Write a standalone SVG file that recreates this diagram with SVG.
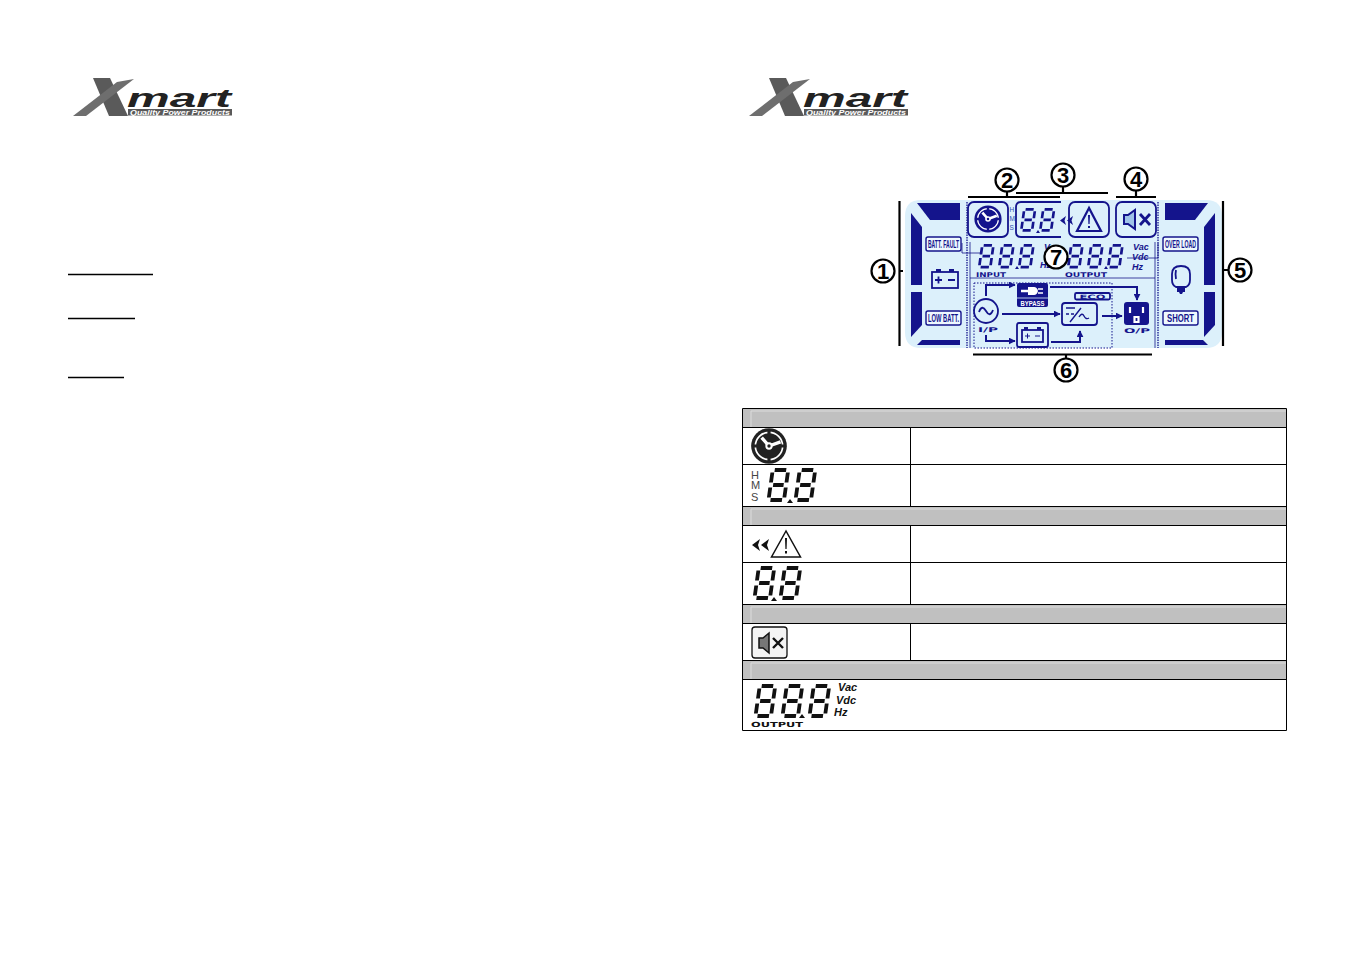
<svg xmlns="http://www.w3.org/2000/svg" xmlns:xlink="http://www.w3.org/1999/xlink" width="1350" height="954" viewBox="0 0 1350 954">
<style>
.n{fill:#14148c}
.o{fill:none;stroke:#14148c;stroke-width:1.800}
.lb{fill:#eef8fe;stroke:#14148c;stroke-width:1.400}
.lt{font-family:"Liberation Sans",sans-serif;font-weight:bold;font-size:10px;fill:#14148c;text-anchor:middle}
.it{font-family:"Liberation Sans",sans-serif;font-weight:bold;font-style:italic;font-size:9px;fill:#14148c}
.wd{font-family:"DejaVu Sans",sans-serif;font-weight:bold;font-size:6.500px;fill:#14148c}
.num{font-family:"Liberation Sans",sans-serif;font-weight:bold;font-size:22px;fill:#000;text-anchor:middle}
.cc{fill:#fff;stroke:#000;stroke-width:2.200}
.bl{stroke:#000;stroke-width:2.200;fill:none}
.cn{fill:none;stroke:#14148c;stroke-width:2}
.t{stroke:#000;stroke-width:1;fill:none}
.h{fill:#c0c0c0}
.hl{stroke:#dcdcdc;stroke-width:1;fill:none}
</style>
<defs>
<g id="digit" transform="skewX(-8)" fill="none" stroke="currentColor" stroke-width="3.800">
<path d="M4,2H15.500M4.500,17H15M4,32H15.500M2,4.500V14.500M17.500,4.500V14.500M2,19.500V29.500M17.500,19.500V29.500"/>
</g>
<g id="logo">
<polygon points="21,2 38,2 56,40 37,40" fill="#5a5a5a"/>
<polygon points="1,40 14,40 62,3 45,6" fill="#6e6e6e"/>
<text x="55" y="31" font-family="Liberation Sans,sans-serif" font-weight="bold" font-style="italic" font-size="25" fill="#222" textLength="104" lengthAdjust="spacingAndGlyphs">mart</text>
<rect x="56" y="33" width="104" height="6.500" fill="#5a5a5a"/>
<text x="58" y="38.500" font-family="Liberation Sans,sans-serif" font-weight="bold" font-style="italic" font-size="6.500" fill="#fff" textLength="100" lengthAdjust="spacingAndGlyphs">Quality Power Products</text>
</g>
<g id="clock">
<circle r="17" fill="currentColor"/>
<circle r="13" fill="none" stroke="#fff" stroke-width="1.600"/>
<path d="M0,-16V-10M0,16V10M-16,0H-10M16,0H10" stroke="currentColor" stroke-width="3" fill="none"/>
<path d="M0,0L-7,-8M0,0L11,-4" stroke="#fff" stroke-width="3.200" fill="none"/>
<circle r="3.500" fill="#fff"/>
<circle r="1.600" fill="currentColor"/>
</g>
<marker id="ah" viewBox="0 0 10 10" refX="9" refY="5" markerWidth="3.500" markerHeight="3.500" orient="auto" markerUnits="strokeWidth"><path d="M0,0L10,5L0,10Z" fill="#14148c"/></marker>
</defs>
<rect width="1350" height="954" fill="#fff"/>
<g id="logo-left"><use xlink:href="#logo" href="#logo" x="72" y="76"/></g>
<g id="logo-right"><use xlink:href="#logo" href="#logo" x="748" y="76"/></g>
<g id="underlines" stroke="#000" stroke-width="1.300">
<path d="M68,274.500H153M68,318.500H135M68,377.500H124"/>
</g>
<g id="lcd">
<path d="M921,200H1206Q1222,200 1222,216V332Q1222,348 1206,348H921Q905,348 905,332V216Q905,200 921,200Z" fill="#dcf0fb"/>
<g class="n">
<polygon points="917,203 960,203 960,220 930,220"/>
<polygon points="911,213 922,227 922,285 911,285"/>
<polygon points="911,292 922,292 922,325 911,337"/>
<polygon points="922,340 960,340 960,345 917,345"/>
<polygon points="1165,203 1208,203 1195,220 1165,220"/>
<polygon points="1215,213 1204,227 1204,285 1215,285"/>
<polygon points="1204,292 1215,292 1215,325 1204,337"/>
<polygon points="1165,340 1203,340 1208,345 1165,345"/>
</g>
<path d="M967,202V348M1158,202V348" fill="none" stroke="#14148c" stroke-width="1.300" stroke-dasharray="1.500 1"/>
<path d="M970,242V348M1155,242V348M970,278H1155" fill="none" stroke="#14148c" stroke-width=".8"/>
<path d="M962,243V253H980M1127,258H1158V243" fill="none" stroke="#14148c" stroke-width=".8"/>
</g>
<g id="batt-fault"><rect class="lb" x="926" y="237" width="35" height="14" rx="2"/><text class="lt" x="943.500" y="248" textLength="31" lengthAdjust="spacingAndGlyphs">BATT. FAULT</text></g>
<g id="low-batt"><rect class="lb" x="926" y="311" width="35" height="14" rx="2"/><text class="lt" x="943.500" y="322" textLength="31" lengthAdjust="spacingAndGlyphs">LOW BATT.</text></g>
<g id="over-load"><rect class="lb" x="1163" y="237" width="35" height="14" rx="2"/><text class="lt" x="1180.500" y="248" textLength="31" lengthAdjust="spacingAndGlyphs">OVER LOAD</text></g>
<g id="short"><rect class="lb" x="1163" y="311" width="35" height="14" rx="2"/><text class="lt" x="1180.500" y="322" textLength="27" lengthAdjust="spacingAndGlyphs">SHORT</text></g>
<g id="battery-icon">
<rect class="o" x="932" y="272" width="26" height="16"/>
<path class="n" d="M936,269h5v3h-5zM949,269h5v3h-5z"/>
<path class="o" d="M935,280h7M938.500,276.500v7M948,280h7"/>
</g>
<g id="bulb">
<path class="o" d="M1172,274Q1172,266 1181,266Q1190,266 1190,274V280Q1190,285 1186,287H1176Q1172,285 1172,280Z"/>
<path class="o" d="M1176,270Q1175,274 1176,279"/>
<path class="n" d="M1177,288h8v4h-2l-1,2h-2l-1,-2h-2z"/>
</g>
<g id="clock-box" color="#14148c">
<rect class="o" x="968" y="202" width="40" height="35" rx="6"/>
<use xlink:href="#clock" href="#clock" transform="translate(988,219) scale(.8)"/>
</g>
<g id="hms-lcd" font-family="Liberation Sans,sans-serif" font-size="6.500" fill="#2d4fb0">
<text x="1009.500" y="212">H</text><text x="1009.500" y="221">M</text><text x="1009.500" y="230">S</text>
</g>
<g id="time-box" color="#14148c">
<path class="o" d="M1061,202H1021Q1016,202 1016,207V232Q1016,237 1021,237H1061"/>
<use xlink:href="#digit" href="#digit" transform="translate(1023,208) scale(.7)"/>
<use xlink:href="#digit" href="#digit" transform="translate(1042,208) scale(.7)"/>
<polygon class="n" points="1036,233 1038,230 1040,233"/>
</g>
<g id="warn-box">
<path class="n" d="M1066,216l-6,4.500l6,4.500l-1.500,-4.500zM1073,216l-6,4.500l6,4.500l-1.500,-4.500z"/>
<rect class="o" x="1069" y="202" width="40" height="35" rx="6"/>
<path d="M1089,208L1077,231H1101Z" fill="none" stroke="#14148c" stroke-width="2.200"/>
<path class="n" d="M1088,215h2l-.4,9h-1.200zM1088,226h2v2h-2z"/>
</g>
<g id="mute-box">
<rect class="o" x="1116" y="202" width="40" height="35" rx="6"/>
<path d="M1124,215h4l7,-5v19l-7,-5h-4z" fill="#9fc3e8" stroke="#14148c" stroke-width="2"/>
<path d="M1140,214l10,11M1150,214l-10,11" stroke="#14148c" stroke-width="2.800"/>
</g>
<g id="input-readout" color="#14148c">
<use xlink:href="#digit" href="#digit" transform="translate(981,244) scale(.72)"/>
<use xlink:href="#digit" href="#digit" transform="translate(1001,244) scale(.72)"/>
<use xlink:href="#digit" href="#digit" transform="translate(1021,244) scale(.72)"/>
<polygon class="n" points="1015,269 1017,266 1019,269"/>
<text class="it" x="1044" y="250">V</text>
<text class="it" x="1040" y="268">Hz</text>
<text class="wd" x="976" y="277" textLength="30" lengthAdjust="spacingAndGlyphs">INPUT</text>
</g>
<g id="output-readout" color="#14148c">
<use xlink:href="#digit" href="#digit" transform="translate(1070,244) scale(.72)"/>
<use xlink:href="#digit" href="#digit" transform="translate(1090,244) scale(.72)"/>
<use xlink:href="#digit" href="#digit" transform="translate(1110,244) scale(.72)"/>
<polygon class="n" points="1104,269 1106,266 1108,269"/>
<text class="it" x="1133" y="250">Vac</text>
<text class="it" x="1132" y="260">Vdc</text>
<text class="it" x="1132" y="270">Hz</text>
<text class="wd" x="1065" y="277" textLength="42" lengthAdjust="spacingAndGlyphs">OUTPUT</text>
</g>
<g id="eco-frame"><rect x="974" y="283" width="138" height="65" fill="none" stroke="#14148c" stroke-width="1" stroke-dasharray="1.500 1.500"/></g>
<g id="bypass"><rect class="n" x="1017" y="283" width="31" height="24" rx="2"/>
<path d="M1021,291h7" stroke="#fff" stroke-width="2.500"/>
<path d="M1028,287h6q3,0 4,4q-1,4 -4,4h-6z" fill="#fff"/>
<path d="M1038,289h5M1038,293h5" stroke="#fff" stroke-width="1.500"/>
<path d="M1017,298H1048" stroke="#dcf0fb" stroke-width=".8"/>
<text x="1032.500" y="305.500" font-family="Liberation Sans,sans-serif" font-weight="bold" font-size="6.500" fill="#fff" text-anchor="middle" textLength="24" lengthAdjust="spacingAndGlyphs">BYPASS</text></g>
<g id="eco"><rect class="o" x="1075" y="293" width="35" height="6.500" rx="1.500" stroke-width="1"/><text x="1092.500" y="298.800" font-family="DejaVu Sans,sans-serif" font-weight="bold" font-size="6" fill="#14148c" text-anchor="middle" textLength="26" lengthAdjust="spacingAndGlyphs">ECO</text></g>
<g id="ac-input"><circle class="o" cx="986" cy="311" r="12"/><path class="o" d="M979,312Q982,304 986,311T993,310"/><text class="wd" x="978" y="332" textLength="20" lengthAdjust="spacingAndGlyphs">I/P</text></g>
<g id="battery-flow"><rect class="o" x="1017" y="323" width="31" height="24" rx="2"/><rect class="o" x="1022" y="330" width="21" height="12" stroke-width="1"/><path class="n" d="M1024,327h4v3h-4zM1037,327h4v3h-4z"/><path d="M1025,336h5M1027.500,333.500v5M1035,336h5" fill="none" stroke="#14148c" stroke-width="1"/></g>
<g id="inverter"><rect class="o" x="1062" y="303" width="35" height="22" rx="3"/><path d="M1066,308h9M1066,314h3M1071,314h3M1070,322l11,-14M1079,317q3,-5 5,-1t5,2" fill="none" stroke="#14148c" stroke-width="1.400"/></g>
<g id="outlet"><rect class="n" x="1124" y="302" width="25" height="23" rx="3"/><path d="M1130,307v6M1143,307v6M1134.500,317h4v5h-4z" fill="none" stroke="#fff" stroke-width="2.200"/><text class="wd" x="1124" y="333" textLength="26" lengthAdjust="spacingAndGlyphs">O/P</text></g>
<g id="connectors">
<path class="cn" d="M986,296V285H1015" marker-end="url(#ah)"/>
<path class="cn" d="M1050,287H1137V300" marker-end="url(#ah)"/>
<path class="cn" d="M1002,314H1060" marker-end="url(#ah)"/>
<path class="cn" d="M1102,316H1122" marker-end="url(#ah)"/>
<path class="cn" d="M986,335V341H1015" marker-end="url(#ah)"/>
<path class="cn" d="M1051,342H1080V331" marker-end="url(#ah)"/>
<path class="bl" d="M899.500,201V346M899.500,271H903"/>
<path class="bl" d="M968,197H1060M1007,197V191"/>
<path class="bl" d="M1016,193H1108M1063,193V186"/>
<path class="bl" d="M1116,197H1156M1136,197V190"/>
<path class="bl" d="M1223,201V346M1223,270H1228"/>
<path class="bl" d="M973,354.500H1152M1066,354.500V359"/>
</g>
<g id="callout-1"><circle class="cc" cx="883" cy="271" r="11.500"/><text class="num" x="883" y="279">1</text></g>
<g id="callout-2"><circle class="cc" cx="1007" cy="180" r="11.500"/><text class="num" x="1007" y="188">2</text></g>
<g id="callout-3"><circle class="cc" cx="1063" cy="175" r="11.500"/><text class="num" x="1063" y="183">3</text></g>
<g id="callout-4"><circle class="cc" cx="1136" cy="179" r="11.500"/><text class="num" x="1136" y="187">4</text></g>
<g id="callout-5"><circle class="cc" cx="1240" cy="270" r="11.500"/><text class="num" x="1240" y="278">5</text></g>
<g id="callout-6"><circle class="cc" cx="1066" cy="370" r="11.500"/><text class="num" x="1066" y="378">6</text></g>
<g id="callout-7"><circle class="cc" cx="1056" cy="257" r="11.500"/><text class="num" x="1056" y="265">7</text></g>
<g id="table">
<rect class="h" x="743" y="409" width="543" height="18"/>
<rect class="h" x="743" y="507" width="543" height="18"/>
<rect class="h" x="743" y="605" width="543" height="18"/>
<rect class="h" x="743" y="661" width="543" height="18"/>
<path class="hl" d="M751,411V427M751,509V525M751,607V623M751,663V679M751,411H1286M751,509H1286M751,607H1286M751,663H1286"/>
<path class="t" d="M742.500,408.500H1286.500V730.500H742.500ZM742.500,427.500H1286.500M742.500,464.500H1286.500M742.500,506.500H1286.500M742.500,525.500H1286.500M742.500,562.500H1286.500M742.500,604.500H1286.500M742.500,623.500H1286.500M742.500,660.500H1286.500M742.500,679.500H1286.500M910.500,427.500V506.500M910.500,525.500V604.500M910.500,623.500V660.500"/>
</g>
<g id="row-clock" color="#222"><use xlink:href="#clock" href="#clock" transform="translate(769,446) scale(1.050)"/></g>
<g id="row-time" color="#111">
<g font-family="Liberation Sans,sans-serif" font-size="11" fill="#444"><text x="751" y="479">H</text><text x="751" y="489">M</text><text x="751" y="501">S</text></g>
<use xlink:href="#digit" href="#digit" transform="translate(771,468)"/>
<use xlink:href="#digit" href="#digit" transform="translate(798,468)"/>
<polygon points="787,503 790,499 793,503" fill="#111"/>
</g>
<g id="row-warn">
<path d="M760,539l-8,6l8,6l-2,-6zM769,539l-8,6l8,6l-2,-6z" fill="#111"/>
<path d="M786,531L771.500,557H800.500Z" fill="#fff" stroke="#111" stroke-width="1.500"/>
<path d="M785,538h2l-.4,11h-1.200zM785,551h2v2.500h-2z" fill="#111"/>
</g>
<g id="row-code" color="#111">
<use xlink:href="#digit" href="#digit" transform="translate(757,566)"/>
<use xlink:href="#digit" href="#digit" transform="translate(783,566)"/>
<polygon points="771,601 774,597 777,601" fill="#111"/>
</g>
<g id="row-mute">
<rect x="752" y="627" width="35" height="31" rx="3" fill="#f4f4f4" stroke="#111" stroke-width="1.300"/>
<path d="M759,638h4l6,-5v20l-6,-5h-4z" fill="#777" stroke="#111" stroke-width="1.500"/>
<path d="M773,638l10,10M783,638l-10,10" stroke="#111" stroke-width="2.400"/>
</g>
<g id="row-output" color="#111">
<use xlink:href="#digit" href="#digit" transform="translate(758,684)"/>
<use xlink:href="#digit" href="#digit" transform="translate(785,684)"/>
<use xlink:href="#digit" href="#digit" transform="translate(812,684)"/>
<polygon points="799,718 802,714 805,718" fill="#111"/>
<g font-family="Liberation Sans,sans-serif" font-weight="bold" font-style="italic" font-size="11" fill="#111"><text x="838" y="691">Vac</text><text x="836" y="704">Vdc</text><text x="834" y="716">Hz</text></g>
<text x="751" y="727" font-family="DejaVu Sans,sans-serif" font-weight="bold" font-size="7" fill="#111" textLength="52" lengthAdjust="spacingAndGlyphs">OUTPUT</text>
</g>
</svg>
